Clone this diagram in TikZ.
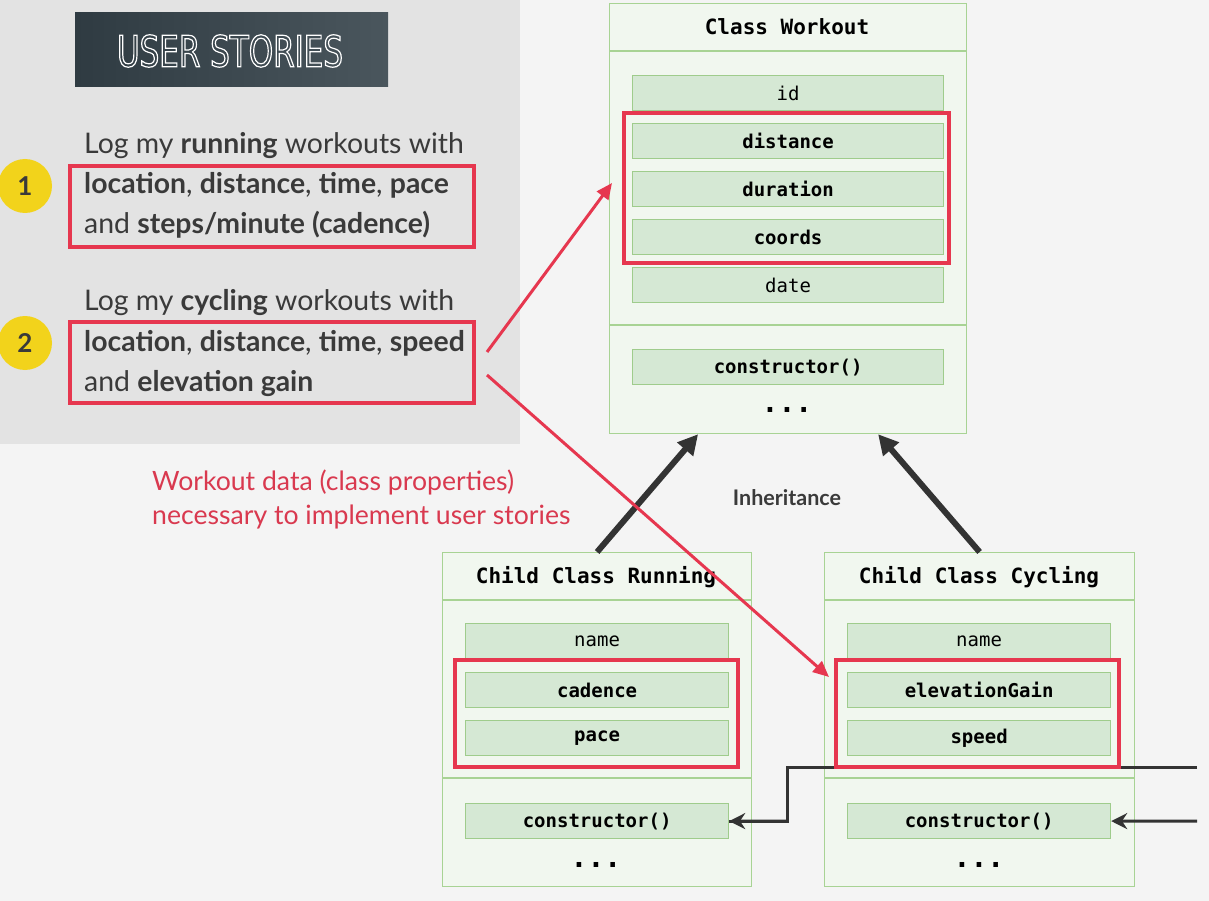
\documentclass[tikz,border=0pt]{standalone}
\usepackage{fontspec}
\setmainfont{Lato}
\setmonofont{DejaVu Sans Mono}
\newfontfamily\titlefont[FakeStretch=0.72]{DejaVu Sans}
\usetikzlibrary{arrows.meta}
\definecolor{bgc}{HTML}{F4F4F4}
\definecolor{panelc}{HTML}{E3E3E3}
\definecolor{hdl}{HTML}{2F3B42}
\definecolor{hdr}{HTML}{4A565D}
\definecolor{classfill}{HTML}{F1F7EF}
\definecolor{classborder}{HTML}{A8D394}
\definecolor{fieldfill}{HTML}{D5E8D4}
\definecolor{fieldborder}{HTML}{9FCC8C}
\definecolor{redc}{HTML}{E6374F}
\definecolor{redtext}{HTML}{D9394F}
\definecolor{yel}{HTML}{F2D31B}
\definecolor{darkc}{HTML}{3A3A3A}
\definecolor{arrowc}{HTML}{333333}
\newcommand\outlinetext[1]{\special{pdf:literal direct 1 Tr 1.2 w 1 1 1 RG}#1\special{pdf:literal direct 0 Tr}}
\begin{document}
\begin{tikzpicture}[x=1pt,y=-1pt,
  classbox/.style={draw=classborder, fill=classfill, line width=1.2pt, anchor=north west, inner sep=0pt},
  field/.style={draw=fieldborder, fill=fieldfill, line width=1.2pt, anchor=north west, inner sep=0pt,
     minimum height=35pt, font=\ttfamily\fontsize{19}{19}\selectfont, text=black},
  classtitle/.style={font=\ttfamily\bfseries\fontsize{21}{21}\selectfont, text=black},
  dots/.style={anchor=base, inner sep=0pt, font=\ttfamily\bfseries\fontsize{28}{28}\selectfont, text=black},
  redbox/.style={draw=redc, line width=4pt},
  story/.style={anchor=base west, inner sep=0pt, text=darkc, font=\fontsize{28.4}{28.4}\selectfont},
  badge/.style={circle, fill=yel, minimum size=54pt, inner sep=0pt, text=darkc, font=\bfseries\fontsize{26}{26}\selectfont},
  inherit/.style={draw=arrowc, line width=6pt, -{Triangle[length=20pt,width=20pt]}},
  redarrow/.style={draw=redc, line width=3pt, -{Triangle[length=16pt,width=14pt]}},
  darkline/.style={draw=arrowc, line width=3pt},
  darkarrow/.style={draw=arrowc, line width=3pt, -{Stealth[length=16pt,width=16pt]}},
  redlabel/.style={anchor=base west, inner sep=0pt, text=redtext, font=\fontsize{26.6}{26.6}\selectfont}
]
\fill[bgc] (0,0) rectangle (1209,901);
\useasboundingbox (0,0) rectangle (1209,901);
\fill[panelc] (0,0) rectangle (520,444);

% header
\shade[left color=hdl, right color=hdr] (75,13) rectangle (388,87);
\node[text=white, font=\titlefont\fontsize{43}{43}\selectfont] (us) at (230,51) {\outlinetext{USER STORIES}};

% badges
\node[badge] (b1) at (25,186) {1};
\node[badge] (b2) at (25,343) {2};

% stories
\node[story] (s1a) at (84,154) {Log my \textbf{running} workouts with};
\node[story] (s1b) at (84,194) {\textbf{location}, \textbf{distance}, \textbf{time}, \textbf{pace}};
\node[story] (s1c) at (84,234) {and \textbf{steps/minute (cadence)}};
\node[story] (s2a) at (84,310) {Log my \textbf{cycling} workouts with};
\node[story] (s2b) at (84,351) {\textbf{location}, \textbf{distance}, \textbf{time}, \textbf{speed}};
\node[story] (s2c) at (84,391) {and \textbf{elevation gain}};
\draw[redbox] (70,166) rectangle (474,247);
\draw[redbox] (70,322) rectangle (474,403);

% red text
\node[redlabel] (r1) at (152,490) {Workout data (class properties)};
\node[redlabel] (r2) at (152,524) {necessary to implement user stories};

% Class Workout
\node[classbox, minimum width=357pt, minimum height=430pt] (work) at (609,3) {};
\draw[classborder, line width=1.2pt] (609,51) -- (966,51);
\draw[classborder, line width=1.2pt] (609,325) -- (966,325);
\node[classtitle] (wt) at (787,27) {Class Workout};
\node[field, minimum width=311pt] (wid) at (632,75) {id};
\node[field, minimum width=311pt] (wdist) at (632,123) {\bfseries distance};
\node[field, minimum width=311pt] (wdur) at (632,171) {\bfseries duration};
\node[field, minimum width=311pt] (wco) at (632,219) {\bfseries coords};
\node[field, minimum width=311pt] (wdate) at (632,267) {date};
\node[field, minimum width=311pt] (wctor) at (632,349) {\bfseries constructor()};
\node[dots] (wdots) at (787,412) {...};
\draw[redbox] (624,113) rectangle (949,263);

% Child Running
\node[classbox, minimum width=309pt, minimum height=334pt] (run) at (442,552) {};
\draw[classborder, line width=1.2pt] (442,600) -- (751,600);
\draw[classborder, line width=1.2pt] (442,778) -- (751,778);
\node[classtitle] (rt) at (596,577) {Child Class Running};
\node[field, minimum width=263pt] (rname) at (465,623) {name};
\node[field, minimum width=263pt] (rcad) at (465,672) {\bfseries cadence};
\node[field, minimum width=263pt] (rpace) at (465,720) {\bfseries pace};
\node[field, minimum width=263pt] (rctor) at (465,803) {\bfseries constructor()};
\node[dots] (rdots) at (596,867) {...};
\draw[redbox] (455,660) rectangle (738,767);

% Child Cycling
\node[classbox, minimum width=310pt, minimum height=334pt] (cyc) at (824,552) {};
\draw[classborder, line width=1.2pt] (824,600) -- (1134,600);
\draw[classborder, line width=1.2pt] (824,778) -- (1134,778);
\node[classtitle] (ct) at (979,577) {Child Class Cycling};
\node[field, minimum width=263pt] (cname) at (847,623) {name};
\node[field, minimum width=263pt] (celev) at (847,672) {\bfseries elevationGain};
\node[field, minimum width=263pt] (cspeed) at (847,720) {\bfseries speed};
\node[field, minimum width=263pt] (cctor) at (847,803) {\bfseries constructor()};
\node[dots] (cdots) at (979,867) {...};

% dark connector lines (under red box)
\coordinate (in1) at (1197,767);
\coordinate (bend1) at (787,767);
\coordinate (bend2) at (787,821);
\coordinate (in2) at (1197,821);
\draw[darkline] (in1) -- (bend1) -- (bend2) -- (bend2 -| rctor.east);
\draw[darkarrow] (bend2) -- (rctor.east);
\draw[darkarrow] (in2) -- (cctor.east);
\draw[redbox] (836,660) rectangle (1119,767);

% inheritance
\draw[inherit] (run.north) -- ([xshift=-90pt]work.south);
\draw[inherit] (cyc.north) -- ([xshift=90pt]work.south);
\node[text=darkc, font=\bfseries\fontsize{21.5}{21.5}\selectfont] (inh) at (787,498) {Inheritance};

% red arrows
\coordinate (ra1s) at (487,352);
\coordinate (ra1e) at (612,183);
\coordinate (ra2s) at (487,375);
\coordinate (ra2e) at (829,677);
\draw[redarrow] (ra1s) -- (ra1e);
\draw[redarrow] (ra2s) -- (ra2e);
\end{tikzpicture}
\end{document}
